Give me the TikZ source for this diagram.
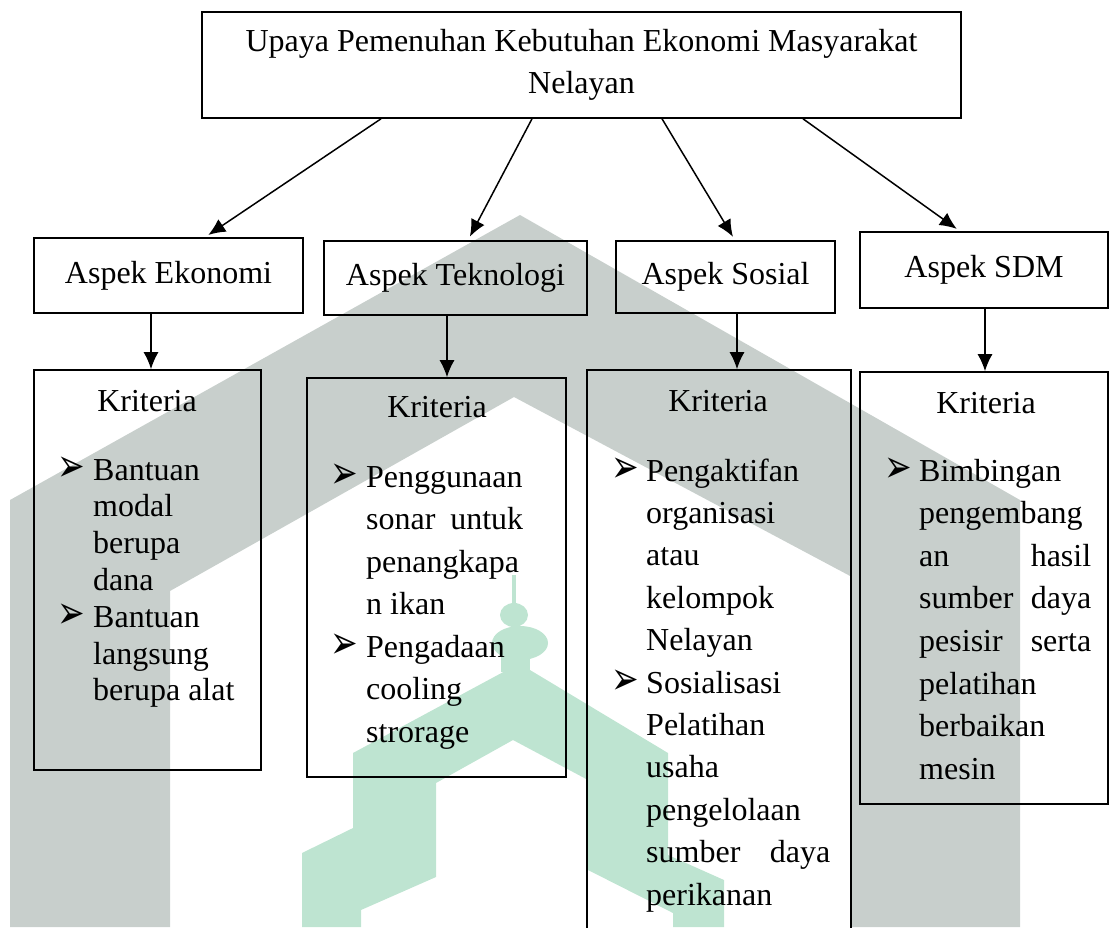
\documentclass[tikz,border=0pt]{standalone}
\usepackage{fontspec}
\setmainfont{Liberation Serif}
\newfontfamily\dingfont{DejaVu Sans}
\usetikzlibrary{arrows.meta,positioning,calc}

\definecolor{wmgray}{RGB}{200,207,204}
\definecolor{wmgreen}{RGB}{190,228,209}

\tikzset{
  box/.style={draw, line width=1.6pt, inner sep=0pt},
  txt/.style={inner sep=0pt, anchor=base west, font=\fontsize{32}{40}\selectfont},
  ktitle/.style={inner sep=0pt, anchor=base, font=\fontsize{32}{40}\selectfont},
  bul/.style={inner sep=0pt, anchor=base west, font=\dingfont\fontsize{33}{33}\selectfont},
  arr/.style={-{Latex[length=17pt,width=15pt]}, line width=1.5pt},
}
\newcommand{\jl}[2]{\makebox[#1pt][s]{#2}}
\newcommand{\bulmark}{\scalebox{1}[1.4]{➢}}

\begin{document}
\begin{tikzpicture}[x=1pt,y=-1pt]
\useasboundingbox (0,0) rectangle (1110,927);

% Latar belakang (watermark)
\fill[wmgray] (10,927) -- (10,500) -- (520,215) -- (1020,500) -- (1020,927) -- (852,927) -- (852,577) -- (514,397) -- (170,591) -- (170,927) -- cycle;
\fill[wmgreen] (302,927) -- (302,853) -- (353,828) -- (353,753) -- (507,670) -- (530,670) -- (668,753) -- (668,855) -- (724,880) -- (724,927) -- (673,927) -- (673,913) -- (588,870) -- (588,780) -- (513,740) -- (436,783) -- (436,877) -- (361,910) -- (361,927) -- cycle;
\fill[wmgreen] (512,575) rectangle (516,606);
\fill[wmgreen] (514,615) ellipse (14 and 12);
\fill[wmgreen] (520,643) ellipse (28 and 17);
\fill[wmgreen] (501,655) rectangle (530,672);

% Judul
\node[box, minimum width=759pt, minimum height=106pt, align=center, font=\fontsize{32}{42}\selectfont] (top) at (581.5,65) {Upaya Pemenuhan Kebutuhan Ekonomi Masyarakat\\Nelayan};

% Aspek
\node[box, minimum width=269pt, minimum height=75pt, font=\fontsize{32}{40}\selectfont] (a1) at (168.5,275.5) {Aspek Ekonomi};
\node[box, minimum width=263pt, minimum height=74pt, font=\fontsize{32}{40}\selectfont] (a2) at (455.5,278) {Aspek Teknologi};
\node[box, minimum width=219pt, minimum height=72pt, font=\fontsize{32}{40}\selectfont] (a3) at (725.5,277) {Aspek Sosial};
\node[box, minimum width=248pt, minimum height=76pt, font=\fontsize{32}{40}\selectfont] (a4) at (984,270) {Aspek SDM};

% Kotak kriteria
\node[box, minimum width=227pt, minimum height=400pt] (k1) at (147.5,570) {};
\node[box, minimum width=259pt, minimum height=399pt] (k2) at (436.5,577.5) {};
\node[box, minimum width=264pt, minimum height=580pt] (k3) at (719,660) {};
\node[box, minimum width=248pt, minimum height=432pt] (k4) at (984,588) {};

% Panah
\foreach \s/\e/\n in {381/205/a1, 532/468/a2, 662/735/a3, 803/960/a4}
  \draw[arr, shorten >=4pt] (top.south -| \s,0) -- (\n.north -| \e,0);
\foreach \x/\a/\k in {151/a1/k1, 447/a2/k2, 737/a3/k3, 985/a4/k4}
  \draw[arr] (\a.south -| \x,0) -- (\k.north -| \x,0);

% Kriteria 1
\node[ktitle] at (147,411) {Kriteria};
\foreach \t [count=\i from 0] in {Bantuan, modal, berupa, dana, Bantuan, langsung, berupa alat}
  \node[txt] at (93,480+36.8*\i) {\t};
\foreach \i in {0,4} \node[bul] at (57,481+36.8*\i) {\bulmark};

% Kriteria 2
\node[ktitle] at (437,417) {Kriteria};
\foreach \t [count=\i from 0] in {Penggunaan, {\jl{157}{sonar untuk}}, penangkapa, n ikan, Pengadaan, cooling, strorage}
  \node[txt] at (366,487+42.5*\i) {\t};
\foreach \i in {0,4} \node[bul] at (330,488+42.5*\i) {\bulmark};

% Kriteria 3
\node[ktitle] at (718,411) {Kriteria};
\foreach \t [count=\i from 0] in {Pengaktifan, organisasi, atau, kelompok, Nelayan, Sosialisasi, Pelatihan, usaha, pengelolaan, {\jl{184}{sumber daya}}, perikanan}
  \node[txt] at (646,481+42.4*\i) {\t};
\foreach \i in {0,5} \node[bul] at (611,482+42.4*\i) {\bulmark};

% Kriteria 4
\node[ktitle] at (986,413) {Kriteria};
\foreach \t [count=\i from 0] in {Bimbingan, pengembang, {\jl{172}{an hasil}}, {\jl{172}{sumber daya}}, {\jl{172}{pesisir serta}}, pelatihan, berbaikan, mesin}
  \node[txt] at (919,481+42.6*\i) {\t};
\node[bul] at (884,482) {\bulmark};

\end{tikzpicture}
\end{document}
